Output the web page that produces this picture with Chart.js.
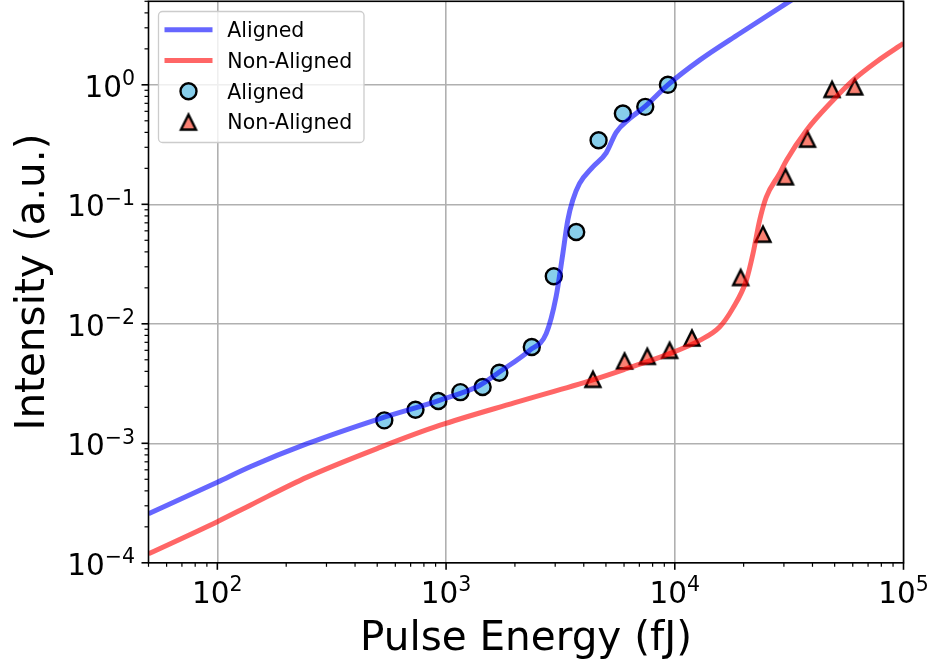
<!DOCTYPE html>
<html>
<head>
<meta charset="utf-8">
<script src="https://cdn.jsdelivr.net/npm/chart.js@4.4.1/dist/chart.umd.min.js"></script>
<style>
  html, body { margin: 0; padding: 0; background: #fff; }
  canvas { display: block; }
</style>
</head>
<body>
<canvas id="chart" width="935" height="666"></canvas>
<script>
// fitted curves
const alignedCurveX = [50, 100, 140, 247, 518, 935, 1400, 1710, 2320, 2740, 3030, 3240, 3405, 3580, 3830, 4385, 5015, 5545, 6340, 7380, 9330, 12850, 19230, 32360, 40000];
const alignedCurveY = [2.57e-4, 4.73e-4, 6.4e-4, 9.93e-4, 1.62e-3, 2.29e-3, 3.05e-3, 3.95e-3, 6.0e-3, 8.28e-3, 0.017, 0.0387, 0.0736, 0.108, 0.149, 0.206, 0.27, 0.40, 0.52, 0.654, 1.0, 1.61, 2.69, 5.12, 6.6];

const nonAlignedCurveX = [50, 100, 140, 247, 518, 935, 2000, 4385, 6140, 9490, 12850, 15700, 17900, 20550, 21980, 23500, 25120, 28730, 30760, 37670, 49200, 60100, 76200, 100000];
const nonAlignedCurveY = [1.19e-4, 2.21e-4, 3.05e-4, 5.21e-4, 9.29e-4, 1.41e-3, 2.19e-3, 3.4e-3, 4.21e-3, 5.63e-3, 7.27e-3, 9.4e-3, 0.0134, 0.0231, 0.0387, 0.0736, 0.115, 0.181, 0.233, 0.417, 0.743, 1.09, 1.56, 2.22];

// measured points
const alignedX = [537, 735, 925, 1155, 1445, 1710, 2370, 2958, 3707, 4643, 5930, 7430, 9330];
const alignedY = [1.556e-3, 1.91e-3, 2.26e-3, 2.68e-3, 2.96e-3, 3.90e-3, 6.4e-3, 0.025, 0.0587, 0.344, 0.576, 0.654, 1.0];

const nonAlignedX = [4385, 6030, 7580, 9490, 11880, 19410, 24300, 30480, 38040, 48700, 61200];
const nonAlignedY = [3.43e-3, 4.88e-3, 5.34e-3, 6.0e-3, 7.6e-3, 0.0244, 0.0562, 0.170, 0.351, 0.915, 0.962];

const seriesLabels = ['Aligned', 'Non-Aligned'];

// axes
const xRange = [50, 1e5];
const yRange = [1e-4, 5];
const xMajorTicks = [1e2, 1e3, 1e4, 1e5];
const xTickLabels = ['10^2', '10^3', '10^4', '10^5'];
const yMajorTicks = [1e-4, 1e-3, 1e-2, 1e-1, 1];
const yTickLabels = ['10^\u22124', '10^\u22123', '10^\u22122', '10^\u22121', '10^0'];
const xTitle = 'Pulse Energy (fJ)';
const yTitle = 'Intensity (a.u.)';

const FONT = "'DejaVu Sans', 'Liberation Sans', sans-serif";

function toXY(xs, ys) {
    return xs.map((x, i) => ({ x: x, y: ys[i] }));
}

function isMajor(v) {
    const l = Math.log10(v);
    return Math.abs(l - Math.round(l)) < 1e-9;
}

// 1..9 x 10^n inside the range
function logTicks(min, max) {
    const out = [];
    for (let e = Math.floor(Math.log10(min)); e <= Math.ceil(Math.log10(max)); e++) {
        for (let m = 1; m < 10; m++) {
            const v = parseFloat((m * Math.pow(10, e)).toPrecision(6));
            if (v >= min * 0.9999 && v <= max * 1.0001) out.push(v);
        }
    }
    return out;
}

// matplotlib-like '^' marker
function makeTriangle(half, fill) {
    const c = document.createElement('canvas');
    c.width = 32; c.height = 32;
    const g = c.getContext('2d');
    g.beginPath();
    g.moveTo(16, 16 - half);
    g.lineTo(16 - half, 16 + half);
    g.lineTo(16 + half, 16 + half);
    g.closePath();
    g.fillStyle = fill;
    g.fill();
    g.lineJoin = 'miter';
    g.lineWidth = 2.4;
    g.strokeStyle = '#000';
    g.stroke();
    return c;
}
const triangleMarker = makeTriangle(7.5, '#fa8072');

function drawPow(ctx, label, x, baseY, align) {
    const parts = label.split('^');
    ctx.font = '29.5px ' + FONT;
    const wb = ctx.measureText(parts[0]).width;
    ctx.font = '20.5px ' + FONT;
    const we = ctx.measureText(parts[1]).width;
    const total = wb + we;
    let left = align === 'right' ? x - total : x - total / 2;
    ctx.textAlign = 'left';
    ctx.textBaseline = 'alphabetic';
    ctx.font = '29.5px ' + FONT;
    ctx.fillText(parts[0], left, baseY);
    ctx.font = '20.5px ' + FONT;
    ctx.fillText(parts[1], left + wb, baseY - 11.7);
}

const decorPlugin = {
    id: 'decor',
    afterDraw(chart) {
        const ctx = chart.ctx;
        const a = chart.chartArea;
        const xs = chart.scales.x, ys = chart.scales.y;
        ctx.save();
        ctx.strokeStyle = '#000';
        ctx.fillStyle = '#000';

        // tick marks
        xs.ticks.forEach(t => {
            const px = xs.getPixelForValue(t.value);
            const maj = isMajor(t.value);
            ctx.lineWidth = maj ? 1.6 : 1.2;
            ctx.beginPath();
            ctx.moveTo(px, a.bottom);
            ctx.lineTo(px, a.bottom + (maj ? 7 : 4));
            ctx.stroke();
        });
        ys.ticks.forEach(t => {
            const py = ys.getPixelForValue(t.value);
            const maj = isMajor(t.value);
            ctx.lineWidth = maj ? 1.6 : 1.2;
            ctx.beginPath();
            ctx.moveTo(a.left, py);
            ctx.lineTo(a.left - (maj ? 7 : 4), py);
            ctx.stroke();
        });

        // frame
        ctx.lineWidth = 1.6;
        ctx.strokeRect(a.left, a.top, a.right - a.left, a.bottom - a.top);

        // tick labels
        xMajorTicks.forEach((v, i) => {
            drawPow(ctx, xTickLabels[i], xs.getPixelForValue(v), a.bottom + 40, 'center');
        });
        yMajorTicks.forEach((v, i) => {
            drawPow(ctx, yTickLabels[i], a.left - 13.5, ys.getPixelForValue(v) + 12, 'right');
        });

        // axis titles
        ctx.font = '40.5px ' + FONT;
        ctx.textAlign = 'center';
        ctx.textBaseline = 'alphabetic';
        ctx.fillText(xTitle, (a.left + a.right) / 2, 650);
        ctx.save();
        ctx.translate(43.5, (a.top + a.bottom) / 2);
        ctx.rotate(-Math.PI / 2);
        ctx.fillText(yTitle, 0, 0);
        ctx.restore();

        // legend
        const lx = 158.5, ly = 11.5, lw = 205.5, lh = 131;
        ctx.beginPath();
        ctx.roundRect(lx, ly, lw, lh, 4);
        ctx.fillStyle = 'rgba(255,255,255,0.8)';
        ctx.fill();
        ctx.strokeStyle = '#cccccc';
        ctx.lineWidth = 1.3;
        ctx.stroke();

        const rows = [29.7, 60.5, 91.3, 122.1];
        chart.data.datasets.forEach((ds, i) => {
            const ry = rows[i];
            if (ds.showLine) {
                ctx.strokeStyle = ds.borderColor;
                ctx.lineWidth = ds.borderWidth;
                ctx.beginPath();
                ctx.moveTo(164.5, ry);
                ctx.lineTo(212.5, ry);
                ctx.stroke();
            } else if (ds.pointStyle === 'circle') {
                ctx.beginPath();
                ctx.arc(188.5, ry, ds.pointRadius, 0, Math.PI * 2);
                ctx.fillStyle = ds.pointBackgroundColor;
                ctx.fill();
                ctx.lineWidth = ds.pointBorderWidth;
                ctx.strokeStyle = ds.pointBorderColor;
                ctx.stroke();
            } else {
                ctx.drawImage(ds.pointStyle, 188.5 - 16, ry - 16);
            }
            ctx.fillStyle = '#000';
            ctx.font = '20.5px ' + FONT;
            ctx.textAlign = 'left';
            ctx.textBaseline = 'alphabetic';
            ctx.fillText(ds.label, 227.3, ry + 7.3);
        });
        ctx.restore();
    }
};

new Chart(document.getElementById('chart').getContext('2d'), {
    type: 'scatter',
    data: {
        datasets: [
            {
                label: seriesLabels[0],
                data: toXY(alignedCurveX, alignedCurveY),
                showLine: true,
                borderColor: 'rgba(0, 0, 255, 0.6)',
                borderWidth: 5,
                pointRadius: 0,
                cubicInterpolationMode: 'monotone'
            },
            {
                label: seriesLabels[1],
                data: toXY(nonAlignedCurveX, nonAlignedCurveY),
                showLine: true,
                borderColor: 'rgba(255, 0, 0, 0.6)',
                borderWidth: 5,
                pointRadius: 0,
                cubicInterpolationMode: 'monotone'
            },
            {
                label: seriesLabels[0],
                data: toXY(alignedX, alignedY),
                pointStyle: 'circle',
                pointRadius: 8,
                pointBackgroundColor: '#87ceeb',
                pointBorderColor: '#000',
                pointBorderWidth: 2.4
            },
            {
                label: seriesLabels[1],
                data: toXY(nonAlignedX, nonAlignedY),
                pointStyle: triangleMarker,
                pointRadius: 8,
                pointBackgroundColor: '#fa8072',
                pointBorderColor: '#000',
                pointBorderWidth: 2.4
            }
        ]
    },
    options: {
        responsive: false,
        animation: false,
        devicePixelRatio: 1,
        layout: { autoPadding: false, padding: { left: 0, right: 31.5, top: 1.3, bottom: 0 } },
        plugins: { legend: { display: false }, tooltip: { enabled: false } },
        scales: {
            x: {
                type: 'logarithmic',
                min: xRange[0],
                max: xRange[1],
                afterBuildTicks: s => { s.ticks = logTicks(xRange[0], xRange[1]).map(v => ({ value: v })); },
                afterFit: s => { s.height = 103.2; },
                ticks: { display: false },
                border: { display: false },
                grid: {
                    drawTicks: false,
                    lineWidth: 1.6,
                    color: c => (c.tick && isMajor(c.tick.value)) ? '#b0b0b0' : 'rgba(0,0,0,0)'
                }
            },
            y: {
                type: 'logarithmic',
                min: yRange[0],
                max: yRange[1],
                afterBuildTicks: s => { s.ticks = logTicks(yRange[0], yRange[1]).map(v => ({ value: v })); },
                afterFit: s => { s.width = 148.5; },
                ticks: { display: false },
                border: { display: false },
                grid: {
                    drawTicks: false,
                    lineWidth: 1.6,
                    color: c => (c.tick && isMajor(c.tick.value)) ? '#b0b0b0' : 'rgba(0,0,0,0)'
                }
            }
        }
    },
    plugins: [decorPlugin]
});
</script>
</body>
</html>
